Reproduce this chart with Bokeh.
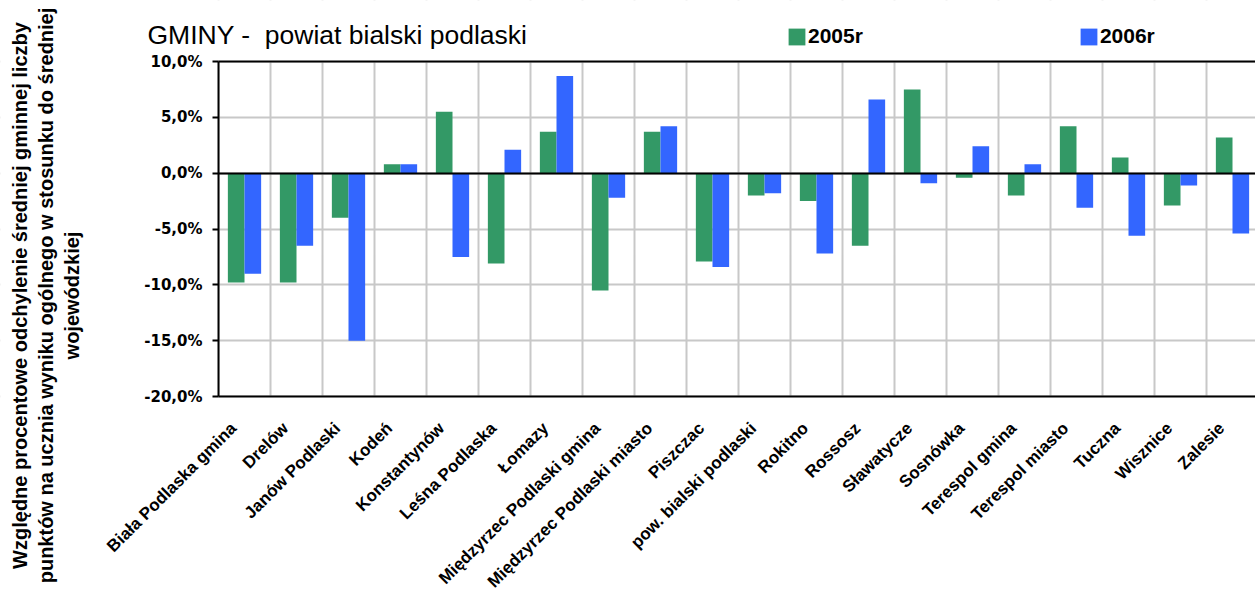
import math
from bokeh.plotting import figure
from bokeh.models import (ColumnDataSource, FixedTicker, Legend, LegendItem,
                          Label, LinearAxis, BoxAnnotation)
from bokeh.transform import dodge
from bokeh.embed import file_html
from bokeh.resources import INLINE

# ---------------- data ----------------
categories = [
    "Biała Podlaska gmina", "Drelów", "Janów Podlaski", "Kodeń",
    "Konstantynów", "Leśna Podlaska", "Łomazy", "Międzyrzec Podlaski gmina",
    "Międzyrzec Podlaski miasto", "Piszczac", "pow. bialski podlaski",
    "Rokitno", "Rossosz", "Sławatycze", "Sosnówka", "Terespol gmina",
    "Terespol miasto", "Tuczna", "Wisznice", "Zalesie",
]
values_2005 = [-9.8, -9.8, -4.0, 0.8, 5.5, -8.1, 3.7, -10.5, 3.7, -7.9,
               -2.0, -2.5, -6.5, 7.5, -0.4, -2.0, 4.2, 1.4, -2.9, 3.2]
values_2006 = [-9.0, -6.5, -15.0, 0.8, -7.5, 2.1, 8.7, -2.2, 4.2, -8.4,
               -1.8, -7.2, 6.6, -0.9, 2.4, 0.8, -3.1, -5.6, -1.1, -5.4]
series_names = ["2005r", "2006r"]
y_ticks = [-20, -15, -10, -5, 0, 5, 10]
y_tick_labels = ["-20,0%", "-15,0%", "-10,0%", "-5,0%", "0,0%", "5,0%", "10,0%"]
title_text = "GMINY -\u00a0 powiat bialski podlaski"
y_title_lines = [
    "Względne procentowe odchylenie średniej gminnej liczby",
    "punktów na ucznia wyniku ogólnego w stosunku do średniej",
    "wojewódzkiej",
]

# ---------------- styles / layout ----------------
GREEN = "#339966"
BLUE = "#3366FF"
GRID = "#c8c8c8"
SANS = "Liberation Sans"
W, H = 1255, 598
PLOT_L, PLOT_T, PLOT_B = 218, 61, 396     # pixel edges of the plotting area
CAT_PX = 52                               # pixels per category
Y_MIN, Y_MAX = y_ticks[0], y_ticks[-1]
n = len(categories)

# ranges chosen so that the canvas-wide frame maps the plot area to the pixels above
x_lo = -0.5 - PLOT_L / CAT_PX
x_hi = -0.5 + (W - PLOT_L) / CAT_PX
ppu = (PLOT_B - PLOT_T) / (Y_MAX - Y_MIN)
y_hi = Y_MAX + PLOT_T / ppu
y_lo = Y_MIN - (H - PLOT_B) / ppu

idx = list(range(n))
src = ColumnDataSource(dict(x=idx, cat=categories, v2005=values_2005, v2006=values_2006))

p = figure(width=W, height=H, x_range=(x_lo, x_hi), y_range=(y_lo, y_hi),
           output_backend="svg", toolbar_location=None,
           min_border_left=0, min_border_top=0, min_border_right=0,
           min_border_bottom=0)
p.outline_line_color = None
p.background_fill_color = "white"
p.border_fill_color = "white"

r1 = p.vbar(x=dodge("x", -0.16, range=p.x_range), top="v2005", bottom=0,
            width=0.32, source=src, fill_color=GREEN, line_color=None)
r2 = p.vbar(x=dodge("x", 0.16, range=p.x_range), top="v2006", bottom=0,
            width=0.32, source=src, fill_color=BLUE, line_color=None)

# grids
p.xgrid.ticker = FixedTicker(ticks=[i - 0.5 for i in range(n + 1)])
p.ygrid.ticker = FixedTicker(ticks=y_ticks)
for g in (p.xgrid, p.ygrid):
    g.grid_line_color = GRID
    g.grid_line_width = 2

# white masks so that the grid stays inside the plotting area
for kw in (dict(right=-0.5), dict(bottom=Y_MAX), dict(top=Y_MIN)):
    p.add_layout(BoxAnnotation(fill_color="white", fill_alpha=1.0,
                               line_color=None, level="underlay", **kw))

# y axis (drawn at the left edge of the plotting area)
ya = p.yaxis[0]
ya.fixed_location = -0.5
ya.bounds = (Y_MIN, Y_MAX)
ya.ticker = FixedTicker(ticks=y_ticks)
ya.major_label_overrides = dict(zip(y_ticks, y_tick_labels))
ya.major_label_text_font = "DejaVu Sans"
ya.major_label_text_font_style = "bold"
ya.major_label_text_font_size = "15px"
ya.major_label_text_color = "black"
ya.axis_line_color = "black"
ya.axis_line_width = 2
ya.major_tick_line_color = "black"
ya.major_tick_line_width = 2
ya.major_tick_in = 0
ya.major_tick_out = 6
ya.minor_tick_line_color = None
ya.major_label_standoff = 10

# x axis (at -20 %), labels slightly left of the category centre
label_pos = [i - 0.21 for i in idx]
xa = p.xaxis[0]
xa.fixed_location = Y_MIN
xa.bounds = (-0.5, x_hi)
xa.ticker = FixedTicker(ticks=label_pos)
xa.major_label_overrides = dict(zip(label_pos, categories))
xa.major_label_orientation = math.pi / 4
xa.major_label_text_font = SANS
xa.major_label_text_font_style = "bold"
xa.major_label_text_font_size = "17px"
xa.major_label_text_color = "black"
xa.axis_line_color = "black"
xa.axis_line_width = 2
xa.major_tick_line_color = None
xa.minor_tick_line_color = None
xa.major_label_standoff = 23

# black horizontal lines at 0 % and at the top (+10 %)
for loc, side in ((0, "below"), (Y_MAX, "above")):
    ax = LinearAxis(fixed_location=loc, bounds=(-0.5, x_hi),
                    ticker=FixedTicker(ticks=[]), axis_line_color="black",
                    axis_line_width=2, major_tick_line_color=None,
                    minor_tick_line_color=None)
    p.add_layout(ax, side)

# chart title
p.add_layout(Label(x=147, y=H - 34, x_units="screen", y_units="screen",
                   text=title_text, text_font=SANS, text_font_size="26.5px",
                   text_color="black", text_baseline="alphabetic"))

# vertical axis title (three centred lines)
for line, xpos in zip(y_title_lines, [19, 45, 71]):
    p.add_layout(Label(x=xpos, y=H - 295, x_units="screen", y_units="screen",
                       text=line, angle=math.pi / 2, text_align="center",
                       text_baseline="middle", text_font=SANS,
                       text_font_style="bold", text_font_size="20px",
                       text_color="black"))

# legend
legend = Legend(items=[LegendItem(label=series_names[0], renderers=[r1]),
                       LegendItem(label=series_names[1], renderers=[r2])],
                location=(786, H - 48), orientation="horizontal", spacing=215,
                padding=0, margin=0, border_line_color=None,
                background_fill_alpha=0,
                glyph_width=21, glyph_height=21, label_standoff=1,
                label_height=21, label_text_font=SANS,
                label_text_font_style="bold", label_text_font_size="21px",
                label_text_color="black")
p.add_layout(legend)

open("out.html", "w").write(file_html(p, INLINE))
